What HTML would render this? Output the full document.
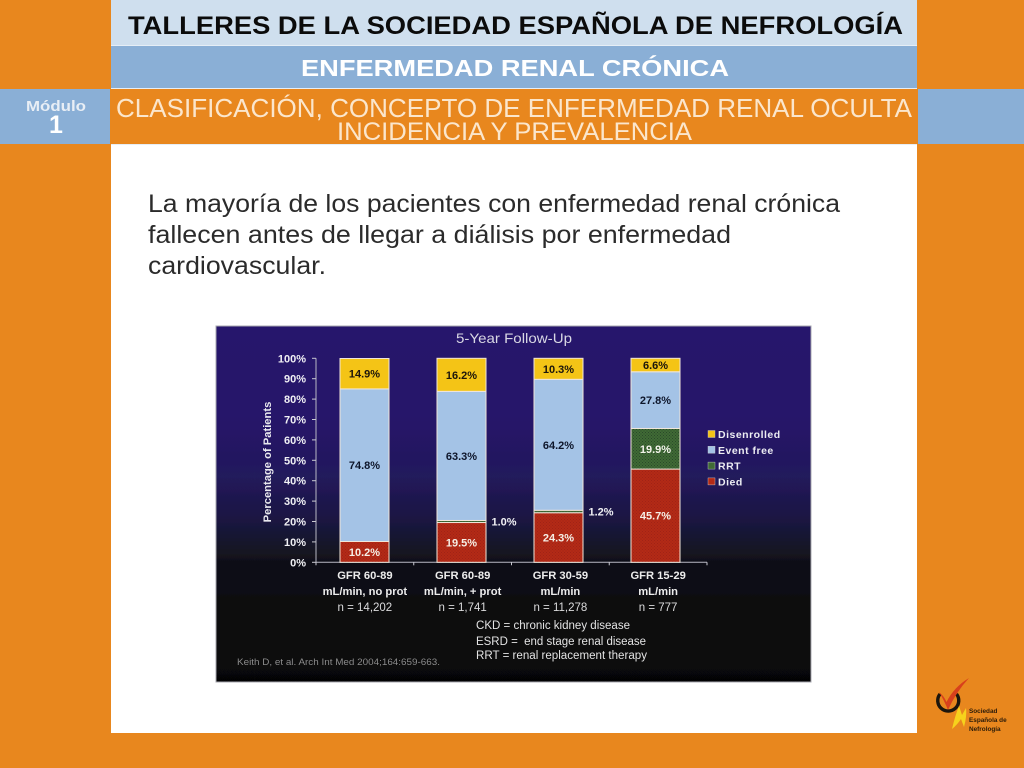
<!DOCTYPE html>
<html lang="es">
<head>
<meta charset="utf-8">
<title>Enfermedad renal crónica</title>
<style>
html,body{margin:0;padding:0;background:#e8871e;}
svg{display:block;}
text{font-family:"Liberation Sans",sans-serif;}
</style>
</head>
<body>
<svg id="slide" width="1024" height="768" viewBox="0 0 1024 768" xmlns="http://www.w3.org/2000/svg">
<defs>
<linearGradient id="panelGrad" gradientUnits="userSpaceOnUse" x1="0" y1="326" x2="0" y2="682">
<stop offset="0" stop-color="#27136c"/>
<stop offset="0.25" stop-color="#26156a"/>
<stop offset="0.42" stop-color="#231a5c"/>
<stop offset="0.55" stop-color="#1a1740"/>
<stop offset="0.66" stop-color="#111119"/>
<stop offset="0.8" stop-color="#0b0b0e"/>
<stop offset="1" stop-color="#060606"/>
</linearGradient>
<pattern id="hatchGreen" width="3" height="3" patternUnits="userSpaceOnUse">
<rect width="3" height="3" fill="#3f6a35"/>
<rect width="1" height="1" fill="#2a4a2a"/>
<rect x="1.5" y="1.5" width="1" height="1" fill="#2a4a2a"/>
</pattern>
<pattern id="hatchRed" width="3" height="3" patternUnits="userSpaceOnUse">
<rect width="3" height="3" fill="#b32b18"/>
<rect width="1" height="1" fill="#a02414"/>
<rect x="1.5" y="1.5" width="1" height="1" fill="#a02414"/>
</pattern>
<filter id="soft"><feGaussianBlur stdDeviation="0.35"/></filter>
</defs>

<rect x="0" y="0" width="1024" height="768" fill="#e8871e"/>
<rect x="111" y="0" width="806" height="145" fill="#e6eef6"/>
<rect x="111" y="0" width="806" height="45" fill="#cfdfee"/>
<rect x="111" y="46" width="806" height="42" fill="#8aafd6"/>
<rect x="111" y="89" width="806" height="55" fill="#e8871e"/>
<rect x="0" y="89" width="110" height="55" fill="#8aafd6"/>
<rect x="918" y="89" width="106" height="55" fill="#8aafd6"/>
<rect x="111" y="145" width="806" height="588" fill="#ffffff"/>

<text x="128" y="34" font-size="25" font-weight="700" fill="#0b0b0b" textLength="775" lengthAdjust="spacingAndGlyphs">TALLERES DE LA SOCIEDAD ESPAÑOLA DE NEFROLOGÍA</text>
<text x="301" y="76" font-size="23.5" font-weight="700" fill="#ffffff" textLength="428" lengthAdjust="spacingAndGlyphs">ENFERMEDAD RENAL CRÓNICA</text>
<text x="26" y="111" font-size="15" fill="#e8eef5" font-weight="700" textLength="60" lengthAdjust="spacingAndGlyphs">Módulo</text>
<text x="56" y="133" font-size="25" fill="#ffffff" text-anchor="middle" font-weight="700">1</text>
<text x="116" y="117" font-size="26" fill="#fbe6cc" textLength="796" lengthAdjust="spacingAndGlyphs">CLASIFICACIÓN, CONCEPTO DE ENFERMEDAD RENAL OCULTA</text>
<text x="337" y="140" font-size="25" fill="#fbe6cc" textLength="355" lengthAdjust="spacingAndGlyphs">INCIDENCIA Y PREVALENCIA</text>

<text x="148" y="212" font-size="25" fill="#2b2b2b" textLength="692" lengthAdjust="spacingAndGlyphs">La mayoría de los pacientes con enfermedad renal crónica</text>
<text x="148" y="243" font-size="25" fill="#2b2b2b" textLength="583" lengthAdjust="spacingAndGlyphs">fallecen antes de llegar a diálisis por enfermedad</text>
<text x="148" y="274" font-size="25" fill="#2b2b2b" textLength="178" lengthAdjust="spacingAndGlyphs">cardiovascular.</text>

<g filter="url(#soft)">
<rect x="216" y="326" width="595" height="356" fill="url(#panelGrad)" stroke="#a8a8b0" stroke-width="1"/>
<text x="456" y="343" font-size="14" fill="#d8d8e4" textLength="116" lengthAdjust="spacingAndGlyphs">5-Year Follow-Up</text>
<text x="0" y="0" font-size="11.2" font-weight="700" fill="#e8e8ee" text-anchor="middle" transform="translate(271,462) rotate(-90)">Percentage of Patients</text>
<g id="plot"></g>
<g id="legend"></g>
<text x="476" y="629" font-size="11.5" fill="#e4e4e4" textLength="154" lengthAdjust="spacingAndGlyphs">CKD = chronic kidney disease</text>
<text x="476" y="645" font-size="11.5" fill="#e4e4e4" textLength="170" xml:space="preserve" lengthAdjust="spacingAndGlyphs">ESRD =  end stage renal disease</text>
<text x="476" y="659" font-size="11.5" fill="#e4e4e4" textLength="171" lengthAdjust="spacingAndGlyphs">RRT = renal replacement therapy</text>
<text x="237" y="665" font-size="9.5" fill="#8d8d8d" textLength="203" lengthAdjust="spacingAndGlyphs">Keith D, et al. Arch Int Med 2004;164:659-663.</text>
</g>

<g filter="url(#soft)">
<path d="M940 694 A10.5 10.5 0 1 0 956.5 694" fill="none" stroke="#1a1208" stroke-width="3.4"/>
<path d="M952 729 Q955 716 959 706 L962 715 L966 708 Q967 716 964 727 L961 719 Q957 725 952 729Z" fill="#f6d21e"/>
<path d="M939 692 Q944 696 946.5 702 Q954 687 969 678 Q956 692 948 710 Q944 700 939 692Z" fill="#d8401c"/>
<text x="969" y="713" font-size="6.4" font-weight="700" fill="#2a1a08">Sociedad</text>
<text x="969" y="722" font-size="6.4" font-weight="700" fill="#2a1a08">Española de</text>
<text x="969" y="731" font-size="6.4" font-weight="700" fill="#2a1a08">Nefrología</text>
</g>
</svg>

<script>
var categoryLine1 = ['GFR 60-89', 'GFR 60-89', 'GFR 30-59', 'GFR 15-29'];
var categoryLine2 = ['mL/min, no prot', 'mL/min, + prot', 'mL/min', 'mL/min'];
var sampleSizes = ['n = 14,202', 'n = 1,741', 'n = 11,278', 'n = 777'];
var died = [10.2, 19.5, 24.3, 45.7];
var rrt = [0, 1.0, 1.2, 19.9];
var eventFree = [74.8, 63.3, 64.2, 27.8];
var disenrolled = [14.9, 16.2, 10.3, 6.6];
var yTicks = [0, 10, 20, 30, 40, 50, 60, 70, 80, 90, 100];
var legendLabels = ['Disenrolled', 'Event free', 'RRT', 'Died'];

var NS = 'http://www.w3.org/2000/svg';
var plot = document.getElementById('plot');
var legend = document.getElementById('legend');
var PLOT_LEFT = 316, PLOT_RIGHT = 707, PLOT_TOP = 358.3, PLOT_BOTTOM = 562.3, BAR_W = 49;
var BAR_START = 364.5, BAR_STEP = 97;

function yScale(v) {
  return PLOT_BOTTOM - v / 100 * (PLOT_BOTTOM - PLOT_TOP);
}
function xBand(i) {
  return PLOT_LEFT + (PLOT_RIGHT - PLOT_LEFT) / categoryLine1.length * (i + 0.5);
}
function xBar(i) {
  return BAR_START + BAR_STEP * i;
}
function xEdge(i) {
  return PLOT_LEFT + (PLOT_RIGHT - PLOT_LEFT) / categoryLine1.length * i;
}
function make(tag, parent, props, txt) {
  var el = document.createElementNS(NS, tag);
  for (var k in props) el.setAttribute(k, props[k]);
  if (txt !== undefined) el.textContent = txt;
  parent.appendChild(el);
  return el;
}

var el;
el = make('line', plot, {x1: PLOT_LEFT, x2: PLOT_LEFT, y1: PLOT_TOP, y2: PLOT_BOTTOM, stroke: '#b8b8c4', 'stroke-width': 1});


el = make('line', plot, {x1: PLOT_LEFT, x2: PLOT_RIGHT, y1: PLOT_BOTTOM, y2: PLOT_BOTTOM, stroke: '#b8b8c4', 'stroke-width': 1});



yTicks.forEach(function (t) {
  var y = yScale(t);
  var tick = make('line', plot, {x1: PLOT_LEFT - 4, x2: PLOT_LEFT, y1: y, y2: y, stroke: '#c8c8d0', 'stroke-width': 1});
  
  
  var lab = make('text', plot, {x: 306, y: y + 4, 'font-size': 11, 'font-weight': 700, fill: '#f0f0f4', 'text-anchor': 'end'}, t + '%');
  
  
});

for (var e = 0; e <= categoryLine1.length; e++) {
  var xt = make('line', plot, {x1: xEdge(e), x2: xEdge(e), y1: PLOT_BOTTOM, y2: PLOT_BOTTOM + 3, stroke: '#c8c8d0', 'stroke-width': 1});
  
  
}

var seriesList = [
  {name: 'died', values: died, fill: 'url(#hatchRed)', text: '#f6efe6'},
  {name: 'rrt', values: rrt, fill: 'url(#hatchGreen)', text: '#f2f2ea'},
  {name: 'event-free', values: eventFree, fill: '#a4c3e6', text: '#10162c'},
  {name: 'disenrolled', values: disenrolled, fill: '#f4c414', text: '#1a1408'}
];

categoryLine1.forEach(function (cat, i) {
  var cx = xBar(i);
  var base = 0;
  seriesList.forEach(function (s) {
    var v = s.values[i];
    if (v <= 0) return;
    var yTop = yScale(base + v), yBot = yScale(base);
    var r = make('rect', plot, {x: cx - BAR_W / 2, y: yTop, width: BAR_W, height: yBot - yTop, fill: s.fill, stroke: '#f1e6da', 'stroke-width': 1});
    
    
    var mid = (yTop + yBot) / 2;
    var small = v < 3;
    var t = make('text', plot, {
      x: small ? cx + BAR_W / 2 + 18 : cx,
      y: mid + 4,
      'font-size': 11,
      'font-weight': 700,
      fill: small ? '#f0f0f4' : s.text,
      'text-anchor': 'middle'
    }, v.toFixed(1) + '%');
    
    
    base += v;
  });
  var lx = xBand(i);
  var l1 = make('text', plot, {x: lx, y: 579, 'font-size': 11.2, 'font-weight': 700, fill: '#ececec', 'text-anchor': 'middle'}, cat);
  
  
  var l2 = make('text', plot, {x: lx, y: 595, 'font-size': 11.2, 'font-weight': 700, fill: '#ececec', 'text-anchor': 'middle'}, categoryLine2[i]);
  
  
  var n = make('text', plot, {x: lx, y: 611, 'font-size': 11.5, fill: '#dcdcdc', 'text-anchor': 'middle'}, sampleSizes[i]);
  
  
});

var legendFills = ['#f4c414', '#a4c3e6', '#3f6a35', '#b32b18'];
var legendTop = 434, legendStep = 15.8;
legendLabels.forEach(function (name, i) {
  var y = legendTop + legendStep * i;
  var sw = make('rect', legend, {x: 708, y: y - 3.5, width: 7, height: 7, fill: legendFills[i], stroke: '#cfcfcf', 'stroke-width': 0.4});
  
  
  var tx = make('text', legend, {x: 718, y: y + 4, 'font-size': 10.5, 'font-weight': 700, fill: '#ececf2', 'letter-spacing': '0.5'}, name);
  
  
});
</script>
</body>
</html>
